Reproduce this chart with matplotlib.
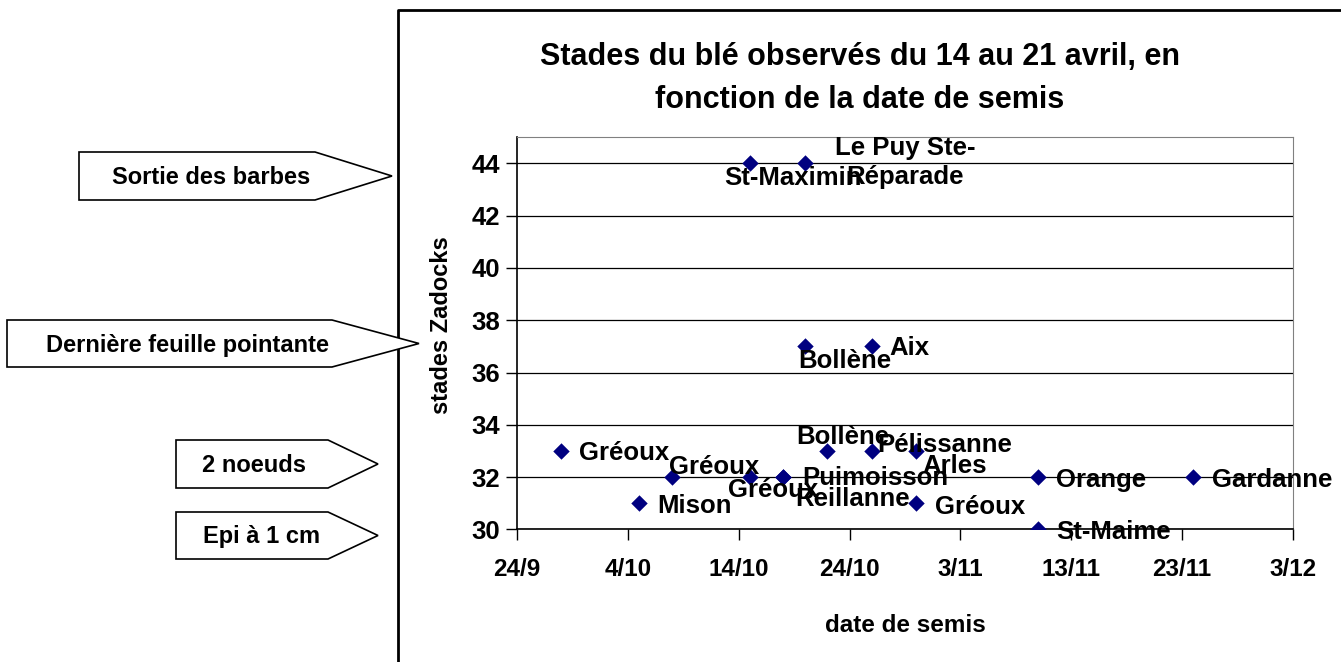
import datetime as dt

import matplotlib
matplotlib.use("Agg")
import matplotlib.pyplot as plt
import matplotlib.dates as mdates
import matplotlib.transforms as mtransforms
from matplotlib.patches import Polygon
from matplotlib.lines import Line2D

plt.rcParams['font.family'] = ['Liberation Sans', 'DejaVu Sans']
plt.rcParams['font.weight'] = 'bold'

W, H = 1341, 662

# données
dates_semis = ['28/9', '5/10', '8/10', '15/10', '18/10', '18/10', '20/10', '22/10',
               '26/10', '26/10', '30/10', '30/10', '10/11', '10/11', '24/11',
               '15/10', '20/10']
stades = [33, 31, 32, 32, 32, 32, 37, 33, 37, 33, 33, 31, 32, 30, 32, 44, 44]
lieux = ['Gréoux', 'Mison', 'Gréoux', 'Gréoux', 'Puimoisson', 'Reillanne',
         'Bollène', 'Bollène', 'Aix', 'Pélissanne', 'Arles', 'Gréoux',
         'Orange', 'St-Maime', 'Gardanne', 'St-Maximin',
         'Le Puy Ste-\nRéparade']

tick_dates = ['24/9', '4/10', '14/10', '24/10', '3/11', '13/11', '23/11', '3/12']
y_ticks = [30, 32, 34, 36, 38, 40, 42, 44]

stades_reperes = ['Sortie des barbes', 'Dernière feuille pointante',
                  '2 noeuds', 'Epi à 1 cm']


def to_date(s):
    d, m = s.split('/')
    return dt.datetime(2006, int(m), int(d))


x = [to_date(s) for s in dates_semis]
xt = [to_date(s) for s in tick_dates]

# label placement (offset in pixels, alignment)
offsets = [(18, -2, 'left'), (18, -3, 'left'), (-3, 10, 'left'), (-22, -13, 'left'),
           (19, -1, 'left'), (12, -22, 'left'), (-7, -15, 'left'), (-31, 14, 'left'),
           (18, -2, 'left'), (6, 6, 'left'), (6, -15, 'left'), (19, -4, 'left'),
           (18, -3, 'left'), (18, -3, 'left'), (19, -3, 'left'), (-26, -15, 'left'),
           (100, 1, 'center')]

fig = plt.figure(figsize=(W / 100, H / 100), dpi=100)
px = mtransforms.Affine2D().scale(1 / W, -1 / H).translate(0, 1) + fig.transFigure

ax = fig.add_axes([517 / W, (H - 529.3) / H, 776 / W, 392 / H])
ax.scatter(x, stades, marker='D', s=70, color='#000080', zorder=3, linewidths=0)

for xi, yi, lab, (dx, dy, ha) in zip(x, stades, lieux, offsets):
    ax.annotate(lab, (mdates.date2num(xi), yi), xytext=(dx, dy),
                textcoords='offset pixels', ha=ha, va='center',
                fontsize=18.5, fontweight='bold', linespacing=1.3,
                multialignment='center', zorder=4)

ax.set_xlim(xt[0], xt[-1])
ax.set_ylim(30, 45)
ax.set_xticks(xt)
ax.set_xticklabels(tick_dates)
ax.set_yticks(y_ticks)
ax.tick_params(axis='both', direction='out', length=8, width=1, labelsize=18.5)
ax.tick_params(axis='x', pad=13, labelsize=17.5)
ax.tick_params(axis='y', pad=4)
ax.grid(axis='y', color='black', linewidth=0.9)
ax.set_axisbelow(True)
for side in ['top', 'right']:
    ax.spines[side].set_color('#808080')
for side in ['left', 'bottom']:
    ax.spines[side].set_color('black')
    ax.spines[side].set_linewidth(1.2)

fig.text(860 / W, 1 - 57 / H, 'Stades du blé observés du 14 au 21 avril, en',
         ha='center', va='center', fontsize=22, fontweight='bold')
fig.text(860 / W, 1 - 100 / H, 'fonction de la date de semis',
         ha='center', va='center', fontsize=22, fontweight='bold')
fig.text(905 / W, 1 - 625 / H, 'date de semis', ha='center', va='center',
         fontsize=17.5, fontweight='bold')
fig.text(441 / W, 1 - 325 / H, 'stades Zadocks', ha='center', va='center',
         rotation=90, fontsize=17, fontweight='bold')

# cadre du graphique
fig.add_artist(Line2D([398, 398, W + 5], [H + 5, 10, 10], transform=px,
                      color='black', linewidth=2))

# flèches des stades repères
boxes = [(79, 152, 200, 315, 392), (7, 320, 367, 332, 419),
         (176, 440, 488, 328, 378), (176, 512, 559, 328, 378)]
text_pos = [(211, 177), (188, 345), (254, 465), (262, 537)]
for (l, t, b, r, tip), lab, (tx, ty) in zip(boxes, stades_reperes, text_pos):
    poly = Polygon([(l, t), (r, t), (tip, (t + b) / 2), (r, b), (l, b)],
                   closed=True, transform=px, facecolor='white',
                   edgecolor='black', linewidth=1.2, zorder=5)
    fig.add_artist(poly)
    fig.text(tx / W, 1 - ty / H, lab, ha='center', va='center',
             fontsize=17, fontweight='bold', zorder=6)

fig.savefig('out.png', dpi=100)
